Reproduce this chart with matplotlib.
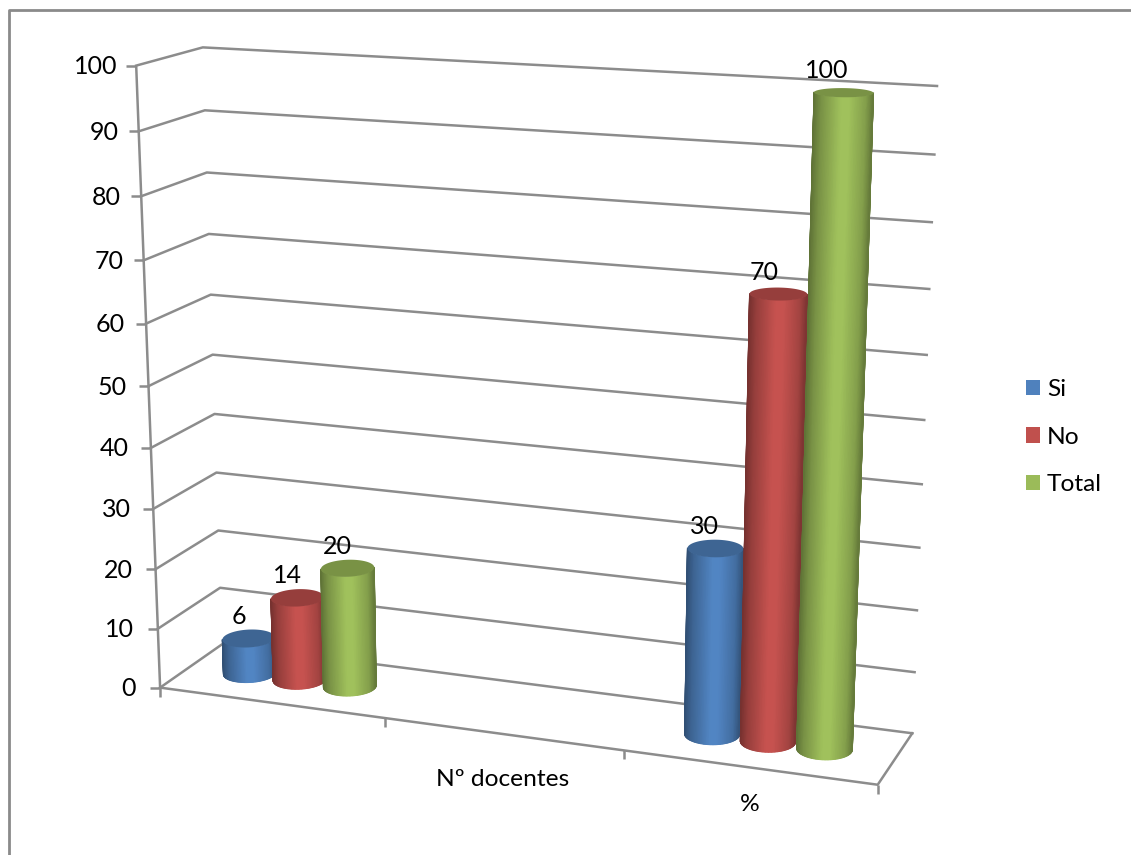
import numpy as np
import matplotlib
matplotlib.use("Agg")
import matplotlib.pyplot as plt
from matplotlib.colors import LinearSegmentedColormap, to_rgb
from matplotlib.patches import Polygon, Patch

# ---- data ----
categories = ["", "Nº docentes", "%"]
series_names = ["Si", "No", "Total"]
si_values = [6, None, 30]
no_values = [14, None, 70]
total_values = [20, None, 100]
value_ticks = list(range(0, 101, 10))

series_values = [si_values, no_values, total_values]
series_colors = ["#4F81BD", "#C0504D", "#9BBB59"]

plt.rcParams["font.family"] = ["Lato", "DejaVu Sans"]
GRID = "#8C8C8C"
LW = 1.8
FS = 18

fig = plt.figure(figsize=(11.31, 8.55), dpi=100)
ax = fig.add_axes([0, 0, 1, 1])
ax.set_xlim(0, 1131)
ax.set_ylim(855, 0)
ax.axis("off")

# ---- perspective of the 3-D box: (x, value/100, depth) -> picture ----
world = [(0, 0, 0), (0, 1, 0), (0, 0, 1), (0, 1, 1), (1, 0, 1), (1, 1, 1), (1, 0, 0)]
image = [(160, 687), (136, 66), (222, 645), (203, 47), (912, 733), (937, 86), (878, 785)]
A, b = [], []
for (X, Y, Z), (u, v) in zip(world, image):
    A.append([X, Y, Z, 1, 0, 0, 0, 0, -u * X, -u * Y, -u * Z])
    b.append(u)
    A.append([0, 0, 0, 0, X, Y, Z, 1, -v * X, -v * Y, -v * Z])
    b.append(v)
H = np.append(np.linalg.lstsq(np.array(A, float), np.array(b, float), rcond=None)[0], 1).reshape(3, 4)


def project(x, value, z):
    x, value, z = np.broadcast_arrays(x, value, z)
    w = H @ np.vstack([x.ravel(), value.ravel() / 100.0, z.ravel(), np.ones(x.size)])
    return np.column_stack([w[0] / w[2], w[1] / w[2]])


def seg(p, q, lw=LW, color=GRID, zorder=1):
    ax.plot([p[0], q[0]], [p[1], q[1]], color=color, lw=lw, zorder=zorder, solid_capstyle="butt")


# ---- outer frame ----
ax.plot([9, 9, 1131], [855, 10, 10], color="#8A8A8A", lw=2.0, zorder=1)

# ---- walls and gridlines ----
for v in value_ticks:
    a, b_, c = project([0, 0, 1], [v, v, v], [0, 1, 1])
    ax.plot([a[0], b_[0], c[0]], [a[1], b_[1], c[1]], color=GRID, lw=LW, zorder=1)
    seg(a, a + np.array([-10, 0]))
    ax.text(a[0] - 19 - 5 * (1 - v / 100.0), a[1] + 1, str(v), ha="right", va="center",
            fontsize=FS, color="black")

# value axis
p = project(0, [0, 100], 0)
seg(p[0], p[1])

# floor front edge, right edge, ticks
p = project([0, 1, 1], [0, 0, 0], [0, 0, 1])
ax.plot(p[:, 0], p[:, 1], color=GRID, lw=LW, zorder=1)
for i in range(len(categories) + 1):
    t = project(i / len(categories), 0, 0)[0]
    seg(t, t + np.array([0, 9]))

# category labels
label_shift = [(0, 0), (0, 45), (1, 37)]
for i, name in enumerate(categories):
    c = project((i + 0.5) / len(categories), 0, 0)[0] + label_shift[i]
    ax.text(c[0], c[1], name, ha="center", va="center", fontsize=FS * 0.98, color="black")

# ---- cylinders ----
theta = np.linspace(0, 2 * np.pi, 121)
RX, RZ, ZC = 0.0355, 0.20, 0.50
STEP = 0.0755
SHADE_POS = [0, 0.12, 0.45, 0.6, 0.88, 1]
SHADE_VAL = [0.62, 0.78, 1.03, 1.03, 0.85, 0.66]


def cylinder(x, value, color, zorder):
    base = np.array(to_rgb(color))
    cmap = LinearSegmentedColormap.from_list(
        "cyl", [(p_, tuple(np.clip(base * f, 0, 1))) for p_, f in zip(SHADE_POS, SHADE_VAL)], N=256)
    xs, zs = x + RX * np.cos(theta), ZC + RZ * np.sin(theta)
    bot = project(xs, 0, zs)
    top = project(xs, value, zs)
    # front arc = lower half of the picture ellipse (largest y)
    il, ir = np.argmin(bot[:-1, 0]), np.argmax(bot[:-1, 0])
    n = len(theta) - 1
    idx_a = [(il + k) % n for k in range(((ir - il) % n) + 1)]
    idx_b = [(il - k) % n for k in range(((il - ir) % n) + 1)]
    front = idx_a if bot[idx_a, 1].mean() > bot[idx_b, 1].mean() else idx_b
    xl, xr = bot[il, 0], bot[ir, 0]
    X = np.vstack([bot[front, 0], top[front, 0]])
    Y = np.vstack([bot[front, 1], top[front, 1]])
    s = (bot[front, 0] - xl) / (xr - xl)
    C = np.vstack([s, s])
    ax.pcolormesh(X, Y, C, shading="gouraud", cmap=cmap, vmin=0, vmax=1, zorder=zorder)
    # soften the silhouette with antialiased edge strokes
    ax.plot(X[:, 0], Y[:, 0], color=base * SHADE_VAL[0], lw=0.8, zorder=zorder + 0.05)
    ax.plot(X[:, -1], Y[:, -1], color=base * SHADE_VAL[-1], lw=0.8, zorder=zorder + 0.05)
    ax.add_patch(Polygon(top[:-1], closed=True, facecolor=base * 0.78, edgecolor="none", zorder=zorder + 0.1))
    return top.mean(axis=0)


n_cat = len(categories)
z = 5
for c in range(n_cat):
    for s_i, (vals, col) in enumerate(zip(series_values, series_colors)):
        v = vals[c]
        if v is None:
            continue
        x = (c + 0.5) / n_cat + (s_i - 1) * STEP - 0.002
        tc = cylinder(x, v, col, z)
        z += 1
        ax.text(tc[0] - 9 - 8 * v / 100.0, tc[1] - 22, str(v), ha="center", va="center",
                fontsize=FS, color="black", zorder=40)

# ---- legend ----
handles = [Patch(facecolor=c, edgecolor="none", label=n) for n, c in zip(series_names, series_colors)]
leg = ax.legend(handles=handles, loc="upper left", bbox_to_anchor=(1026 / 1131, 1 - 379 / 855),
                frameon=False, fontsize=FS * 0.98, handlelength=0.58, handleheight=0.58,
                handletextpad=0.27, labelspacing=1.09, borderaxespad=0, borderpad=0)

fig.savefig("out.png", dpi=100, facecolor="white")
